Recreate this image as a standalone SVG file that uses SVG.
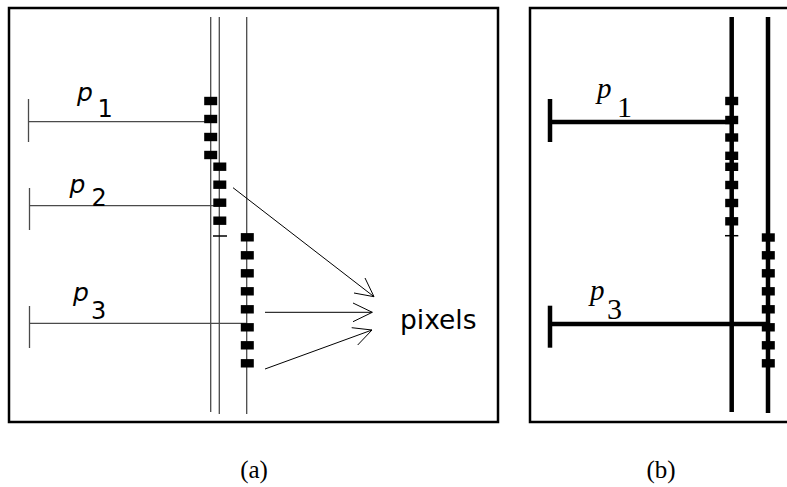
<svg xmlns="http://www.w3.org/2000/svg" width="787" height="487" viewBox="0 0 787 487">
<style>
.frame{fill:none;stroke:#000;stroke-width:2.5}
.thin{stroke:#4a4a4a;stroke-width:1.3;fill:none}
.thick{stroke:#000;stroke-width:4.5;fill:none}
.arr{stroke:#000;stroke-width:1;fill:none}
.sq{fill:#000}
</style>
<defs>
<rect id="sqa1" x="-6.5" y="-4.2" width="13" height="8.4" class="sq"/>
</defs>
<g id="panel-a">
<rect class="frame" x="9" y="8" width="489" height="414"/>
<line class="thin" x1="210.7" y1="17" x2="210.7" y2="412"/>
<line class="thin" x1="219.3" y1="17" x2="219.3" y2="414"/>
<line class="thin" x1="246.7" y1="17" x2="246.7" y2="414"/>
</g>
<g id="ray-p1-a">
<line class="thin" x1="28.5" y1="121.7" x2="210.7" y2="121.7"/>
<line class="thin" x1="28.5" y1="99" x2="28.5" y2="142"/>
<text x="77" y="100.5" style="font-family:'DejaVu Sans',sans-serif;font-style:oblique;font-size:25px">p</text>
<text x="97.5" y="117" style="font-family:'DejaVu Sans',sans-serif;font-size:24px">1</text>
</g>
<g id="ray-p2-a">
<line class="thin" x1="29.5" y1="205.7" x2="219.3" y2="205.7"/>
<line class="thin" x1="29.5" y1="188" x2="29.5" y2="230"/>
<text x="69.5" y="193" style="font-family:'DejaVu Sans',sans-serif;font-style:oblique;font-size:25px">p</text>
<text x="91.5" y="205.5" style="font-family:'DejaVu Sans',sans-serif;font-size:24px">2</text>
</g>
<g id="ray-p3-a">
<line class="thin" x1="29.5" y1="323.3" x2="246.7" y2="323.3"/>
<line class="thin" x1="29.5" y1="306" x2="29.5" y2="348"/>
<text x="73" y="300.5" style="font-family:'DejaVu Sans',sans-serif;font-style:oblique;font-size:25px">p</text>
<text x="91" y="318.5" style="font-family:'DejaVu Sans',sans-serif;font-size:24px">3</text>
</g>
<g id="pixels-a1">
<use href="#sqa1" x="210.7" y="101"/>
<use href="#sqa1" x="210.7" y="119"/>
<use href="#sqa1" x="210.7" y="137"/>
<use href="#sqa1" x="210.7" y="155"/>
</g>
<g id="pixels-a2">
<use href="#sqa1" x="219.8" y="166.7"/>
<use href="#sqa1" x="219.8" y="184.7"/>
<use href="#sqa1" x="219.8" y="202.7"/>
<use href="#sqa1" x="219.8" y="220.7"/>
<line x1="213" y1="236" x2="227" y2="236" stroke="#000" stroke-width="1.5"/>
</g>
<g id="pixels-a3">
<use href="#sqa1" x="247.3" y="237.3"/>
<use href="#sqa1" x="247.3" y="255.3"/>
<use href="#sqa1" x="247.3" y="273.3"/>
<use href="#sqa1" x="247.3" y="291.3"/>
<use href="#sqa1" x="247.3" y="309.3"/>
<use href="#sqa1" x="247.3" y="327.3"/>
<use href="#sqa1" x="247.3" y="345.3"/>
<use href="#sqa1" x="247.3" y="363.3"/>
</g>
<g id="pixels-label">
<text x="400" y="329" style="font-family:'DejaVu Sans',sans-serif;font-size:26.5px">pixels</text>
</g>
<g id="connectors">
<line class="arr" x1="233" y1="187.7" x2="374" y2="296.7"/>
<polyline class="arr" points="365,278 374,296.7 354,293"/>
<line class="arr" x1="265" y1="312.3" x2="372.3" y2="312.3"/>
<polyline class="arr" points="353,303 372.3,312.3 353,321.7"/>
<line class="arr" x1="265" y1="369" x2="372" y2="330"/>
<polyline class="arr" points="351.7,327.7 372,330 357.7,345"/>
</g>
<g id="panel-b">
<path class="frame" d="M790 8 H530 V422 H790"/>
<line class="thick" x1="731.7" y1="17" x2="731.7" y2="412"/>
<line class="thick" x1="768" y1="17" x2="768" y2="413"/>
</g>
<g id="ray-p1-b">
<line class="thick" x1="550" y1="122" x2="731.7" y2="122"/>
<line class="thick" x1="550" y1="99" x2="550" y2="142"/>
<text x="597" y="98" style="font-family:'Liberation Serif',serif;font-style:italic;font-size:29px">p</text>
<text x="617" y="117" style="font-family:'Liberation Serif',serif;font-size:30px">1</text>
</g>
<g id="ray-p3-b">
<line class="thick" x1="550" y1="324" x2="768" y2="324"/>
<line class="thick" x1="550" y1="305.7" x2="550" y2="347.7"/>
<text x="590" y="300" style="font-family:'Liberation Serif',serif;font-style:italic;font-size:29px">p</text>
<text x="607" y="318.5" style="font-family:'Liberation Serif',serif;font-size:30px">3</text>
</g>
<g id="pixels-b1">
<use href="#sqa1" x="731.7" y="101"/>
<use href="#sqa1" x="731.7" y="120"/>
<use href="#sqa1" x="731.7" y="137.5"/>
<use href="#sqa1" x="731.7" y="155.8"/>
<use href="#sqa1" x="731.7" y="166.8"/>
<use href="#sqa1" x="731.7" y="185"/>
<use href="#sqa1" x="731.7" y="203"/>
<use href="#sqa1" x="731.7" y="221.3"/>
<line x1="725" y1="235.7" x2="738.3" y2="235.7" stroke="#000" stroke-width="1.5"/>
</g>
<g id="pixels-b2">
<use href="#sqa1" x="768.3" y="237.5"/>
<use href="#sqa1" x="768.3" y="255.3"/>
<use href="#sqa1" x="768.3" y="273.3"/>
<use href="#sqa1" x="768.3" y="291.3"/>
<use href="#sqa1" x="768.3" y="309.3"/>
<use href="#sqa1" x="768.3" y="327.3"/>
<use href="#sqa1" x="768.3" y="345.3"/>
<use href="#sqa1" x="768.3" y="363.3"/>
</g>
<g id="captions">
<text x="254" y="478" text-anchor="middle" style="font-family:'Liberation Serif',serif;font-size:25px">(a)</text>
<text x="661" y="478" text-anchor="middle" style="font-family:'Liberation Serif',serif;font-size:25px">(b)</text>
</g>
</svg>
